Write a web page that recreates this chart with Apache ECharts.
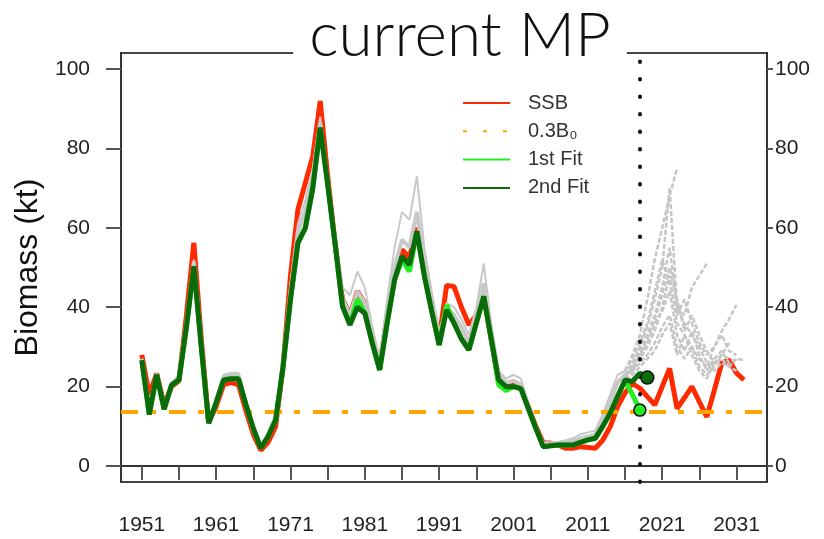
<!DOCTYPE html>
<html>
<head>
<meta charset="utf-8">
<script src="https://cdn.jsdelivr.net/npm/echarts@6/dist/echarts.min.js"></script>
<style>
html, body { margin: 0; background: #fff; }
#chart { width: 824px; height: 539px; }
</style>
</head>
<body>
<div id="chart"></div>
<script>
// years run from firstYear, one value per year
const firstYear = 1951;
const projFirstYear = 2016;

// SSB 1951-2032
const ssb = [28, 18, 23.3, 15.5, 20, 21.5, 38, 56.2, 32, 11,
  15, 20.5, 21, 20.5, 14, 8, 4, 6, 10, 25,
  48, 64.6, 71.3, 78, 91.9, 73, 56, 42, 38, 44,
  41, 33, 25, 38, 48, 54.5, 52.5, 60, 49, 40,
  32, 45.5, 45.2, 40, 35.6, 38, 43, 32, 21, 20,
  20.5, 19.5, 15, 10, 5.8, 5.8, 5.3, 4.5, 4.5, 4.9,
  4.7, 4.5, 6.5, 9.9, 15, 18.4, 20.8, 19.6, 17.5, 15.4,
  20, 24.6, 14.5, 17.2, 20, 16.2, 12.4, 19, 25.9, 26.7,
  23.4, 21.7];

// 1st fit 1951-2018
const fit1 = [26.7, 13, 23, 14.3, 20.4, 21.7, 35, 50.3, 30, 10.8,
  16, 21.7, 22, 22, 15.5, 9.5, 4.5, 7.5, 11.6, 25,
  42, 56.2, 60, 70, 85.2, 71, 56, 40.2, 35.6, 42,
  38.5, 31, 24.2, 36, 46.9, 52, 49, 59.1, 48, 39,
  30.5, 40.5, 36, 32, 29.3, 36, 42.7, 32, 20.5, 19,
  20, 19.5, 14.5, 9.5, 4.9, 5.1, 5.3, 5.3, 5.3, 6,
  6.6, 7, 10, 13.3, 17.5, 21.5, 18, 14.1];

// 2nd fit 1951-2019
const fit2 = [26.7, 13, 23, 14.3, 20.4, 21.7, 35, 50.3, 30, 10.8,
  16, 21.7, 22, 22, 15.5, 9.5, 4.5, 7.5, 11.6, 25,
  42, 56.2, 60, 70, 85.2, 71, 56, 40.2, 35.6, 40,
  38.5, 31, 24.2, 36, 46.9, 52.8, 50.7, 59.1, 48, 39,
  30.5, 39.3, 36, 32, 29.3, 36, 42.7, 32, 21.7, 20,
  20, 19.5, 14.5, 9.5, 4.9, 5.1, 5.3, 5.3, 5.3, 6,
  6.6, 7, 10, 13.3, 17.5, 21.7, 21.3, 23.4, 22.3];

// grey fits, historical part 1951-2016
const greyHistA = [27, 15, 23.5, 16, 21, 23, 37, 52, 31, 11.5,
  17, 23, 23.5, 23.5, 16, 9, 5, 8.5, 13, 27,
  46, 61, 67, 75, 88, 72, 57, 45, 43, 49,
  45, 35, 27, 42, 55, 64, 62, 73, 55, 44,
  34, 41, 40, 37, 33, 40, 51, 36, 24, 22,
  23, 22, 16, 10, 6, 6, 6, 6.5, 7, 8,
  8.5, 9, 13, 18, 23, 24];
const greyHistB = [27, 14, 23, 15, 20.5, 22.5, 36, 51.5, 30.5, 11,
  16.5, 22.5, 23, 23, 15.5, 9, 4.8, 8, 12, 26,
  44, 59, 64, 73, 86.5, 70, 55, 42, 38, 44,
  41, 33, 25.5, 39, 50, 57, 55, 64, 51, 41,
  32, 40, 38, 35, 31, 38, 46, 34, 23, 21,
  21.5, 20.5, 15, 9.5, 5.5, 5.5, 5.8, 6, 6.3, 7,
  7.5, 8, 11.5, 16, 21, 23];

// grey projections from 2016
const proj1 = [24, 28, 33, 42, 52, 60, 68, 75];
const proj2 = [23, 26, 30, 35, 42, 50, 70, 40, 36, 33, 30, 26, 24, 26, 25, 27];
const proj3 = [23, 25, 29, 33, 38, 45, 55, 40, 38, 45, 48, 51];
const proj4 = [22, 24, 27, 30, 34, 40, 48, 36, 33, 30, 27, 25, 30, 34, 37, 40.6];
const proj5 = [22, 25, 28, 31, 36, 39, 44, 33, 29, 34, 28, 24, 27, 29, 26, 27, 26.7];
const proj6 = [23, 24, 26, 28, 31, 35, 38, 30, 27, 30, 25, 23, 25, 28, 27];
const proj7 = [22, 23, 25, 27, 29, 33, 36, 28, 33, 28, 24, 22, 26, 27, 25, 24];
const proj8 = [24, 27, 31, 36, 44, 52, 46, 38, 42, 36, 31, 28, 30, 33, 29, 28];
const proj9 = [23, 25, 28, 32, 37, 43, 50, 42, 34, 38, 33, 29, 26, 28, 31];

const limitB0 = 13.7;
const currentYear = 2018;

const xTicks = [1951, 1956, 1961, 1966, 1971, 1976, 1981, 1986, 1991, 1996, 2001, 2006, 2011, 2016, 2021, 2026, 2031];
const xLabels = [1951, 1961, 1971, 1981, 1991, 2001, 2011, 2021, 2031];
const yTicks = [0, 20, 40, 60, 80, 100];

const font = 'Liberation Sans, Helvetica, Arial, sans-serif';

function toPairs(arr, start) {
  return arr.map((v, i) => [start + i, v]);
}

const greySeries = [];
[[greyHistA, 2], [greyHistB, 4]].forEach(([a, w]) => {
  greySeries.push({
    type: 'line', data: toPairs(a, firstYear), symbol: 'none', silent: true, z: 3,
    lineStyle: { color: '#c8c8c8', width: w }
  });
});
[proj1, proj2, proj3, proj4, proj5, proj6, proj7, proj8, proj9].forEach(a => {
  greySeries.push({
    type: 'line', data: toPairs(a, projFirstYear), symbol: 'none', silent: true, z: 3,
    lineStyle: { color: '#c6c6c6', width: 2.5, type: [5, 2] }
  });
});

const fit1Last = toPairs(fit1, firstYear).slice(-1);
const fit2Last = toPairs(fit2, firstYear).slice(-1);

const option = {
  animation: false,
  backgroundColor: '#fff',
  textStyle: { fontFamily: font },
  title: {
    text: 'current MP',
    left: 444,
    textAlign: 'center',
    top: 5,
    padding: [0, 16],
    backgroundColor: '#fff',
    textStyle: { fontSize: 62, fontWeight: 300, color: '#111', fontFamily: 'Lato, Liberation Sans, sans-serif' }
  },
  legend: {
    data: ['SSB', '0.3B₀', '1st Fit', '2nd Fit'],
    orient: 'vertical',
    left: 457,
    top: 88,
    itemWidth: 47,
    itemHeight: 14,
    itemGap: 8.3,
    itemStyle: { opacity: 0 },
    textStyle: { fontSize: 20, color: '#333', padding: [0, 0, 0, 13] }
  },
  grid: {
    left: 121, right: 57, top: 53, bottom: 57,
    show: true, borderColor: '#444', borderWidth: 2
  },
  xAxis: {
    type: 'value', min: 1948.2, max: 2035.1,
    axisLine: { show: true, lineStyle: { color: '#333', width: 2 } },
    axisTick: { show: true, customValues: xTicks, length: 14, lineStyle: { color: '#555', width: 2 } },
    axisLabel: { customValues: xLabels, fontSize: 21, color: '#222', margin: 33, formatter: v => String(v) },
    splitLine: { show: false }
  },
  yAxis: [{
    type: 'value', min: -4, max: 104,
    name: 'Biomass (kt)', nameLocation: 'middle', nameGap: 62, nameRotate: 90,
    nameTextStyle: { fontSize: 32, color: '#111' },
    axisLine: { show: true, lineStyle: { color: '#333', width: 2 } },
    axisTick: { show: true, customValues: yTicks, length: 15, lineStyle: { color: '#555', width: 2 } },
    axisLabel: { customValues: yTicks, fontSize: 21, color: '#222', margin: 31 },
    splitLine: { show: false }
  }, {
    type: 'value', min: -4, max: 104, position: 'right',
    axisLine: { show: true, lineStyle: { color: '#333', width: 2 } },
    axisTick: { show: true, customValues: yTicks, length: 6, lineStyle: { color: '#555', width: 2 } },
    axisLabel: { customValues: yTicks, fontSize: 21, color: '#222', margin: 8 },
    splitLine: { show: false }
  }],
  series: [
    {
      name: 'SSB', type: 'line', data: toPairs(ssb, firstYear), symbol: 'none', z: 2,
      lineStyle: { color: '#ff2a00', width: 5 }, itemStyle: { color: '#ff2a00' }
    },
    ...greySeries,
    {
      name: '0.3B₀', type: 'line', data: [], symbol: 'none', z: 4,
      lineStyle: { color: '#ffa500', width: 4, type: [4, 16] }, itemStyle: { color: '#ffa500' },
      markLine: {
        silent: true, symbol: 'none', label: { show: false },
        lineStyle: { color: '#ffa500', width: 4, type: [17, 12, 6, 13] },
        data: [{ yAxis: limitB0 }]
      }
    },
    {
      name: '1st Fit', type: 'line', data: toPairs(fit1, firstYear), symbol: 'none', z: 5,
      lineStyle: { color: '#22ee22', width: 5 }, itemStyle: { color: '#22ee22' }
    },
    {
      name: '2nd Fit', type: 'line', data: toPairs(fit2, firstYear), symbol: 'none', z: 6,
      lineStyle: { color: '#0b6b0b', width: 5 }, itemStyle: { color: '#0b6b0b' },
      markLine: {
        silent: true, symbol: 'none', label: { show: false },
        lineStyle: { color: '#111', width: 4, type: [0.5, 17], cap: 'round' },
        data: [{ xAxis: currentYear }]
      }
    },
    {
      type: 'scatter', data: fit1Last, symbolSize: 12, z: 7, silent: true,
      itemStyle: { color: '#22ee22', borderColor: '#111', borderWidth: 1.5, opacity: 1 }
    },
    {
      type: 'scatter', data: fit2Last, symbolSize: 13, z: 7, silent: true,
      itemStyle: { color: '#0b6b0b', borderColor: '#111', borderWidth: 1.5, opacity: 1 }
    }
  ]
};

const chart = echarts.init(document.getElementById('chart'));
chart.setOption(option);
</script>
</body>
</html>
